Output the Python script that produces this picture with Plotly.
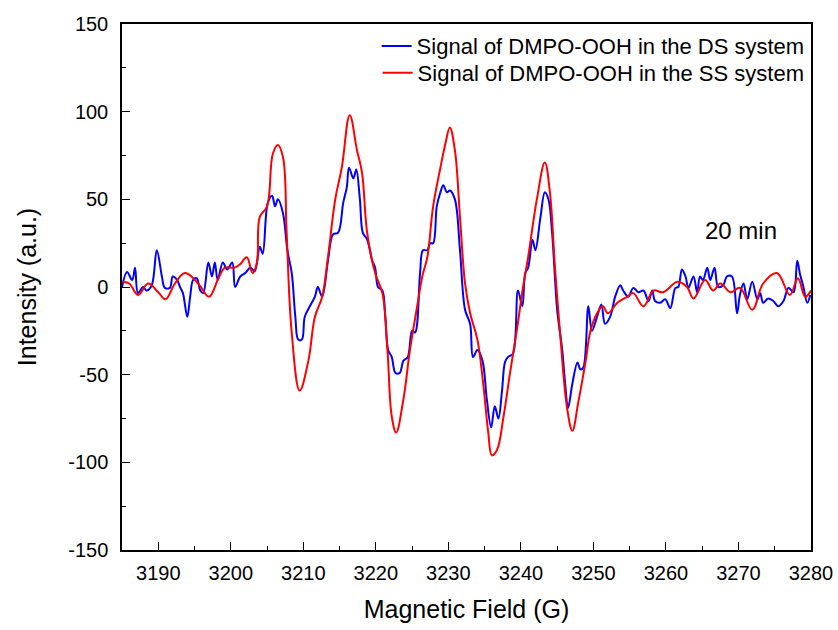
import plotly.graph_objects as go

# SS system (red, smooth)
x_ss = [3185.0, 3186.0, 3187.2, 3188.6, 3190.0, 3191.0, 3192.3, 3193.7, 3195.5, 3197.0,
        3198.3, 3199.2, 3200.5, 3201.3, 3202.2, 3203.0, 3203.6, 3204.0, 3205.0, 3205.8,
        3206.5, 3207.2, 3207.7, 3208.4, 3209.5, 3210.7, 3211.6, 3212.6, 3213.4, 3214.4,
        3215.3, 3216.4, 3217.4, 3218.1, 3218.8, 3219.9, 3220.9, 3221.6, 3222.2, 3222.8,
        3223.8, 3224.7, 3225.7, 3226.4, 3227.1, 3227.9, 3228.9, 3229.6, 3230.2, 3230.9,
        3231.6, 3232.3, 3233.0, 3234.0, 3234.8, 3235.5, 3236.0, 3236.7, 3237.6, 3238.5,
        3239.5, 3240.3, 3241.0, 3242.2, 3243.3, 3244.0, 3244.7, 3245.4, 3246.4, 3247.1,
        3247.9, 3248.9, 3249.6, 3250.5, 3251.3, 3252.0, 3253.3, 3254.7, 3255.5, 3256.9,
        3258.3, 3259.6, 3261.6, 3262.9, 3263.8, 3265.4, 3266.5, 3267.5, 3268.9, 3270.2,
        3271.9, 3273.4, 3275.3, 3277.1, 3278.2, 3279.2, 3280.0]
y_ss = [3, 2, -4.5, 2, -3, -7, 2, 8, 2, -5.5,
        5, 11, 11, 13, 17, 8, 14, 40, 46, 76,
        81, 74, 31, -26, -59, -42, -17, -5.5, 17, 50,
        68, 98, 78, 65, 31, 8, -3.5, -36, -74, -83,
        -64, -36, -11, 6, 17, 46, 68, 82, 91, 78,
        40, 2, -15, -30, -55, -83, -96, -93, -74, -49,
        -23, 0, 17, 50, 71, 54, 11, -26, -70, -82,
        -66, -43, -25, -15, -11, -15, -9, -5.5, -3.5, -11,
        -2, -3, 3, 0, -6.5, 4, -2, 2, -3, -0.5,
        -13, 2, 8, -4.5, 5, -5.5, -2]

# DS system (blue, noisy)
x_ds = [3185.0, 3185.7, 3186.4, 3186.8, 3187.2, 3187.9, 3188.4, 3189.1, 3189.8, 3190.5,
        3190.9, 3191.6, 3192.0, 3192.6, 3193.0, 3193.4, 3194.0, 3194.4, 3194.8, 3195.3,
        3195.8, 3196.2, 3196.9, 3197.4, 3197.8, 3198.2, 3198.9, 3199.5, 3200.2, 3200.6,
        3201.3, 3202.0, 3202.7, 3203.3, 3204.0, 3204.4, 3205.1, 3205.7, 3206.1, 3206.5,
        3207.2, 3207.8, 3208.4, 3208.9, 3209.3, 3209.8, 3210.2, 3210.9, 3211.6, 3212.0,
        3212.6, 3213.4, 3214.1, 3214.8, 3215.5, 3216.0, 3216.3, 3216.9, 3217.3, 3217.8,
        3218.2, 3218.8, 3219.5, 3219.9, 3220.3, 3220.9, 3221.3, 3221.7, 3222.2, 3222.7,
        3223.3, 3223.8, 3224.4, 3225.0, 3225.4, 3226.1, 3226.5, 3227.1, 3227.5, 3227.9,
        3228.4, 3228.9, 3229.3, 3229.8, 3230.2, 3230.9, 3231.6, 3232.3, 3233.0, 3233.4,
        3234.0, 3234.7, 3235.3, 3235.9, 3236.4, 3236.9, 3237.4, 3237.8, 3238.2, 3238.9,
        3239.6, 3240.2, 3240.6, 3241.0, 3241.6, 3242.0, 3242.7, 3243.3, 3243.8, 3244.3,
        3245.0, 3245.7, 3246.1, 3246.5, 3247.1, 3247.8, 3248.2, 3248.6, 3249.3, 3249.8,
        3250.5, 3251.1, 3251.6, 3252.3, 3253.0, 3253.7, 3254.1, 3254.8, 3255.5, 3256.2,
        3256.9, 3257.6, 3258.1, 3258.5, 3259.2, 3259.9, 3260.6, 3261.3, 3261.7, 3262.2,
        3262.7, 3263.1, 3263.8, 3264.3, 3264.7, 3265.1, 3265.7, 3266.1, 3266.7, 3267.2,
        3267.9, 3268.4, 3269.1, 3269.8, 3270.2, 3270.7, 3271.2, 3271.9, 3272.6, 3273.0,
        3273.4, 3274.1, 3274.8, 3275.5, 3276.2, 3276.9, 3277.6, 3278.1, 3278.5, 3278.9,
        3279.5, 3279.9]
y_ds = [0, 8.5, 4, 11, -3.5, 0, -2, 1, 21, 6,
        -0.5, -0.5, 6, 4, 0, -3.5, -17, -5.5, 4, 5,
        -2, -3.5, 14, 6, 14, 4, 14, 10, 14, 0,
        6, 8, 11, 9, 23, 19, 48, 52, 46, 50,
        42, 21, 8, -17, -30, -30, -17, -11, -5.5, 0,
        -5.5, 15, 30, 31, 48, 57, 68, 62, 67, 50,
        31, 27, 15, 11, 0, -2, -17, -36, -40, -49,
        -49, -42, -40, -25, -26, 8, 21, 21, 25, 25,
        46, 54, 58, 54, 55, 50, 21, -13, -21, -40,
        -36, -42, -64, -80, -68, -75, -59, -43, -40, -38,
        -2, -11, 8, 11, 27, 21, 40, 54, 50, 31,
        -13, -36, -55, -69, -55, -43, -47, -46, -11, -25,
        -17, -10, -21, -17, -5.5, 1, -2, -5.5, -0.5, -3,
        -2, -8, -2, -8, -9, -7, -12, -0.5, 0, 10,
        6, -0.5, 6, -3, 6, 4, 11, 4, 11, 0,
        1, 6, 6, -15, -4.5, 2, -7, 3, -7, -3.5,
        -9, -6.5, -8, -11, -8, -0.5, -3, 15, 7, 1,
        -9, -4.5]

x_ticks = [3190, 3200, 3210, 3220, 3230, 3240, 3250, 3260, 3270, 3280]
x_tick_labels = ["3190", "3200", "3210", "3220", "3230", "3240", "3250", "3260", "3270", "3280"]
y_ticks = [-150, -100, -50, 0, 50, 100, 150]
y_tick_labels = ["-150", "-100", "-50", "0", "50", "100", "150"]

FONT = "Liberation Sans, Arial, sans-serif"

fig = go.Figure()
fig.add_trace(go.Scatter(x=x_ds, y=y_ds, mode="lines", legend="legend",
                         name="Signal of DMPO-OOH in the DS system",
                         line=dict(color="#0000ff", width=2, shape="spline", smoothing=1.0)))
fig.add_trace(go.Scatter(x=x_ss, y=y_ss, mode="lines", legend="legend2",
                         name="Signal of DMPO-OOH in the SS system",
                         line=dict(color="#ff0000", width=2, shape="spline", smoothing=1.1)))

fig.add_annotation(x=3270.4, y=32, xref="x", yref="y", text="20 min", showarrow=False,
                   font=dict(size=24, color="black", family=FONT))

axis_common = dict(showline=True, linecolor="black", linewidth=1.5, mirror=True,
                   ticks="inside", ticklen=8, tickwidth=1.2, tickcolor="black",
                   showgrid=False, zeroline=False, automargin=False,
                   tickfont=dict(size=20, color="black", family=FONT))

legend_common = dict(xanchor="right", yanchor="middle", bgcolor="rgba(0,0,0,0)",
                     font=dict(size=22, color="black", family=FONT), itemwidth=30)

fig.update_layout(
    width=838, height=630,
    margin=dict(l=122, r=27, t=24, b=80),
    paper_bgcolor="white", plot_bgcolor="white",
    font=dict(family=FONT, color="black"),
    showlegend=True,
    legend=dict(x=0.998, y=0.958, **legend_common),
    legend2=dict(x=0.998, y=0.907, **legend_common),
    xaxis=dict(range=[3185, 3280], tickvals=x_ticks, ticktext=x_tick_labels,
               ticklabelstandoff=4,
               title=dict(text="Magnetic Field (G)", font=dict(size=25, family=FONT), standoff=18),
               minor=dict(dtick=5, tick0=3185, ticks="inside", ticklen=4, tickwidth=1.2, tickcolor="black"),
               **axis_common),
    yaxis=dict(range=[-150, 150], tickvals=y_ticks, ticktext=y_tick_labels,
               ticklabelstandoff=8,
               title=dict(text="Intensity (a.u.)", font=dict(size=25, family=FONT), standoff=24),
               minor=dict(dtick=25, tick0=0, ticks="inside", ticklen=4, tickwidth=1.2, tickcolor="black"),
               **axis_common),
)

fig.write_html("out.html", config={"displayModeBar": False},
               post_script="document.body.style.margin='0';document.body.style.overflow='hidden';")
